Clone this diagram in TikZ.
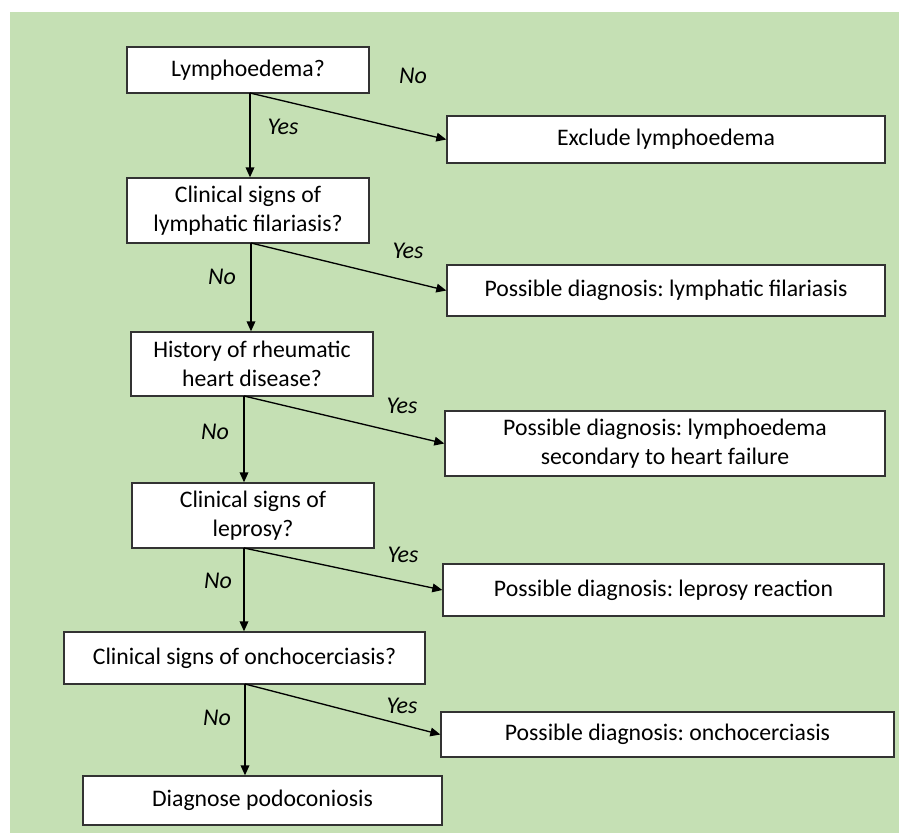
\documentclass[tikz,border=0pt]{standalone}
\usepackage{fontspec}
\setmainfont{Carlito}
\usetikzlibrary{arrows.meta}
\newdimen\pxu \pxu=0.75pt
\definecolor{bggreen}{HTML}{C5E0B4}
\definecolor{boxline}{HTML}{333333}
\tikzset{
  qbox/.style={draw=boxline, line width=1pt, fill=white, inner sep=0pt, align=center,
    font=\fontsize{17.8pt}{22pt}\selectfont\frenchspacing},
  arr/.style={draw=black, line width=1pt, -{Triangle[length=7.5pt,width=6.5pt]}},
  lbl/.style={font=\fontsize{18pt}{20pt}\selectfont\itshape, inner sep=0pt},
}
\begin{document}
\begin{tikzpicture}[x=0.75pt,y=-0.75pt]
\useasboundingbox (0,0) rectangle (899,833);
\fill[white] (0,0) rectangle (899,833);
\fill[bggreen] (10,12) rectangle (899,833);

% question boxes
\node[qbox, minimum width=242\pxu, minimum height=46\pxu] (q1) at (248,70) {Lymphoedema?};
\node[qbox, minimum width=242\pxu, minimum height=65\pxu] (q2) at (248,210.5) {Clinical signs of\\lymphatic filariasis?};
\node[qbox, minimum width=242\pxu, minimum height=64\pxu] (q3) at (252,364) {History of rheumatic\\heart disease?};
\node[qbox, minimum width=242\pxu, minimum height=65\pxu] (q4) at (253,515.5) {Clinical signs of\\leprosy?};
\node[qbox, minimum width=361\pxu, minimum height=52\pxu] (q5) at (244.5,658) {Clinical signs of onchocerciasis?};
\node[qbox, minimum width=359\pxu, minimum height=49\pxu] (p) at (262.5,800.5) {Diagnose podoconiosis};

% outcome boxes
\node[qbox, minimum width=438\pxu, minimum height=47\pxu] (e1) at (666,139.5) {Exclude lymphoedema};
\node[qbox, minimum width=438\pxu, minimum height=51\pxu] (d2) at (666,290.5) {Possible diagnosis: lymphatic filariasis};
\node[qbox, minimum width=440\pxu, minimum height=65\pxu] (d3) at (665,443.5) {Possible diagnosis: lymphoedema\\secondary to heart failure};
\node[qbox, minimum width=441\pxu, minimum height=52\pxu] (d4) at (663.5,590) {Possible diagnosis: leprosy reaction};
\node[qbox, minimum width=453\pxu, minimum height=45\pxu] (d5) at (667.5,734.5) {Possible diagnosis: onchocerciasis};

% branch points
\coordinate (s1) at (250,93);
\coordinate (s2) at (251,243);
\coordinate (s3) at (244,396);
\coordinate (s4) at (244,548);
\coordinate (s5) at (245,684);

% connectors
\draw[arr] (s1) -- (s1 |- q2.north);
\draw[arr] (s1) -- (e1.west);
\draw[arr] (s2) -- (s2 |- q3.north);
\draw[arr] (s2) -- (d2.west);
\draw[arr] (s3) -- (s3 |- q4.north);
\draw[arr] (s3) -- (d3.west);
\draw[arr] (s4) -- (s4 |- q5.north);
\draw[arr] (s4) -- (d4.west);
\draw[arr] (s5) -- (s5 |- p.north);
\draw[arr] (s5) -- (d5.west);

% labels
\node[lbl] (n1) at (413,76) {No};
\node[lbl] (y1) at (283,127) {Yes};
\node[lbl] (n2) at (222,277) {No};
\node[lbl] (y2) at (408,251) {Yes};
\node[lbl] (n3) at (215,432) {No};
\node[lbl] (y3) at (402,406) {Yes};
\node[lbl] (n4) at (218,581) {No};
\node[lbl] (y4) at (403,555) {Yes};
\node[lbl] (n5) at (217,718) {No};
\node[lbl] (y5) at (402,706) {Yes};
\end{tikzpicture}
\end{document}
